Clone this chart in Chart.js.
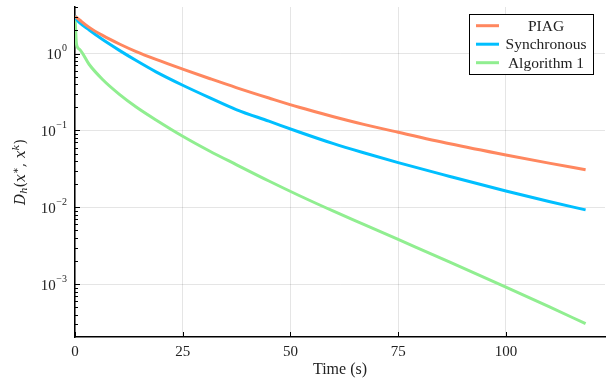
<!DOCTYPE html>
<html>
<head>
<meta charset="utf-8">
<script src="https://cdn.jsdelivr.net/npm/chart.js@4"></script>
<style>
    html, body { margin: 0; padding: 0; background: #fff; }
    #wrap { width: 612px; height: 390px; }
</style>
</head>
<body>
<div id="wrap"><canvas id="grafico" width="612" height="390"></canvas></div>
<script>
// datos
const tiempos = [0, 0.35, 1, 3.3, 6.4, 10.3, 14.2, 18.8, 25, 31.2, 37.4, 45, 52, 60, 67, 75, 87, 100, 110, 118.5];
const piag = [3.02, 2.94, 2.75, 2.19, 1.72, 1.33, 1.06, 0.839, 0.627, 0.474, 0.361, 0.264, 0.200, 0.151, 0.120, 0.0946, 0.0670, 0.0479, 0.0376, 0.0309];
const sincrono = [3.09, 2.8, 2.54, 2.02, 1.52, 1.10, 0.811, 0.578, 0.387, 0.267, 0.187, 0.132, 0.0955, 0.0673, 0.0512, 0.0381, 0.0252, 0.0163, 0.0119, 0.00927];
const algoritmo1 = [3.1, 1.32, 1.14, 0.72, 0.46, 0.295, 0.202, 0.137, 0.0841, 0.0541, 0.036, 0.0220, 0.01426, 0.00891, 0.0060, 0.00382, 0.00194, 0.000918, 0.000511, 0.000307];

const etiquetas = ['PIAG', 'Synchronous', 'Algorithm 1'];
const colores = ['rgb(255,135,95)', 'rgb(0,191,255)', 'rgb(144,238,144)'];
const xTicks = [0, 25, 50, 75, 100];
const decadas = [-3, -2, -1, 0];
const FUENTE = '"Liberation Serif", "DejaVu Serif", serif';
const FUENTE_MAT = '"DejaVu Serif", "Liberation Serif", serif';

function puntos(serie) {
    return tiempos.map((t, i) => ({ x: t, y: serie[i] }));
}

// marcas menores del eje logarítmico
function ticksLog(min, max) {
    const out = [];
    for (let e = -4; e <= 1; e++) {
        for (let m = 1; m <= 9; m++) {
            const v = m * Math.pow(10, e);
            if (v >= min && v <= max) out.push({ value: v });
        }
    }
    return out;
}

const esDecada = v => Math.abs(Math.log10(v) - Math.round(Math.log10(v))) < 1e-9;

// dibuja marcas interiores, etiquetas de y, títulos y leyenda
const decoracion = {
    id: 'decoracion',
    afterDraw(chart) {
        const c = chart.ctx;
        const xs = chart.scales.x, ys = chart.scales.y;
        const area = chart.chartArea;
        c.save();
        c.strokeStyle = '#000';
        c.lineWidth = 1;
        // marcas y
        ys.ticks.forEach(t => {
            const py = Math.round(ys.getPixelForValue(t.value)) + 0.5;
            const largo = esDecada(t.value) ? 5 : 3;
            c.beginPath();
            c.moveTo(area.left, py);
            c.lineTo(area.left + largo, py);
            c.stroke();
        });
        // marcas x
        xTicks.forEach(v => {
            const px = Math.round(xs.getPixelForValue(v)) + 0.5;
            c.beginPath();
            c.moveTo(px, area.bottom);
            c.lineTo(px, area.bottom - 5);
            c.stroke();
        });
        // etiquetas y con exponente
        c.fillStyle = '#222';
        c.textBaseline = 'middle';
        decadas.forEach(e => {
            const py = ys.getPixelForValue(Math.pow(10, e));
            const exp = e < 0 ? '\u2212' + Math.abs(e) : String(e);
            c.font = '10px ' + FUENTE;
            const wExp = c.measureText(exp).width;
            c.textAlign = 'left';
            c.fillText(exp, 67 - wExp, py - 5);
            c.font = '15px ' + FUENTE;
            c.textAlign = 'right';
            c.fillText('10', 67 - wExp - 0.5, py + 2);
        });
        // título x
        c.font = '16px ' + FUENTE;
        c.textAlign = 'center';
        c.fillText('Time (s)', (area.left + area.right) / 2, 370);

        // título y con subíndices
        c.save();
        c.translate(21, (area.top + area.bottom) / 2);
        c.rotate(-Math.PI / 2);
        const partes = [
            { t: 'D', f: 'italic 14px', dy: 0 },
            { t: 'h', f: 'italic 10px', dy: 3 },
            { t: '(', f: '14px', dy: 0 },
            { t: 'x', f: 'italic 14px', dy: 0 },
            { t: '\u2217', f: '10px', dy: -5 },
            { t: ', ', f: '14px', dy: 0 },
            { t: 'x', f: 'italic 14px', dy: 0 },
            { t: 'k', f: 'italic 10px', dy: -5 },
            { t: ')', f: '14px', dy: 0 }
        ];
        let ancho = 0;
        partes.forEach(p => { c.font = p.f + ' ' + FUENTE_MAT; p.w = c.measureText(p.t).width; ancho += p.w; });
        let cx = -ancho / 2;
        c.textAlign = 'left';
        partes.forEach(p => {
            c.font = p.f + ' ' + FUENTE_MAT;
            c.fillText(p.t, cx, p.dy);
            cx += p.w;
        });
        c.restore();

        // leyenda
        const lx = 469.5, ly = 14.5, lw = 124, lh = 60;
        c.fillStyle = '#fff';
        c.fillRect(lx, ly, lw, lh);
        c.strokeStyle = '#000';
        c.lineWidth = 1;
        c.strokeRect(lx, ly, lw, lh);
        c.font = '15.5px ' + FUENTE;
        c.textAlign = 'center';
        c.textBaseline = 'middle';
        chart.data.datasets.forEach((ds, i) => {
            const py = 25.7 + i * 18.5;
            c.strokeStyle = ds.borderColor;
            c.lineWidth = 3;
            c.beginPath();
            c.moveTo(476, py);
            c.lineTo(499, py);
            c.stroke();
            c.fillStyle = '#222';
            c.fillText(ds.label, 546, py + 1);
        });
        c.restore();
    }
};

new Chart(document.getElementById('grafico'), {
    type: 'line',
    data: {
        datasets: [
            { label: etiquetas[0], data: puntos(piag), borderColor: colores[0] },
            { label: etiquetas[1], data: puntos(sincrono), borderColor: colores[1] },
            { label: etiquetas[2], data: puntos(algoritmo1), borderColor: colores[2] }
        ].map(d => ({ ...d, borderWidth: 3, pointRadius: 0, fill: false, cubicInterpolationMode: 'monotone' }))
    },
    options: {
        responsive: false,
        animation: false,
        layout: { padding: { left: 0, top: 7, right: 7, bottom: 0 } },
        plugins: { legend: { display: false }, tooltip: { enabled: false } },
        scales: {
            x: {
                type: 'linear',
                min: 0,
                max: 123,
                afterBuildTicks: s => { s.ticks = xTicks.map(v => ({ value: v })); },
                afterFit: s => { s.height = 53; },
                grid: { color: 'rgba(0,0,0,0.1)', drawTicks: false },
                border: { color: '#000', width: 1.5 },
                ticks: { color: '#222', padding: 6, font: { family: FUENTE, size: 15 }, maxRotation: 0 }
            },
            y: {
                type: 'logarithmic',
                min: 2.06e-4,
                max: 4.03,
                afterBuildTicks: s => { s.ticks = ticksLog(s.min, s.max); },
                afterFit: s => { s.width = 75; },
                grid: {
                    color: ctx => esDecada(ctx.tick.value) ? 'rgba(0,0,0,0.1)' : 'rgba(0,0,0,0)',
                    drawTicks: false
                },
                border: { color: '#000', width: 1.5 },
                ticks: { display: false }
            }
        }
    },
    plugins: [decoracion]
});
</script>
</body>
</html>
